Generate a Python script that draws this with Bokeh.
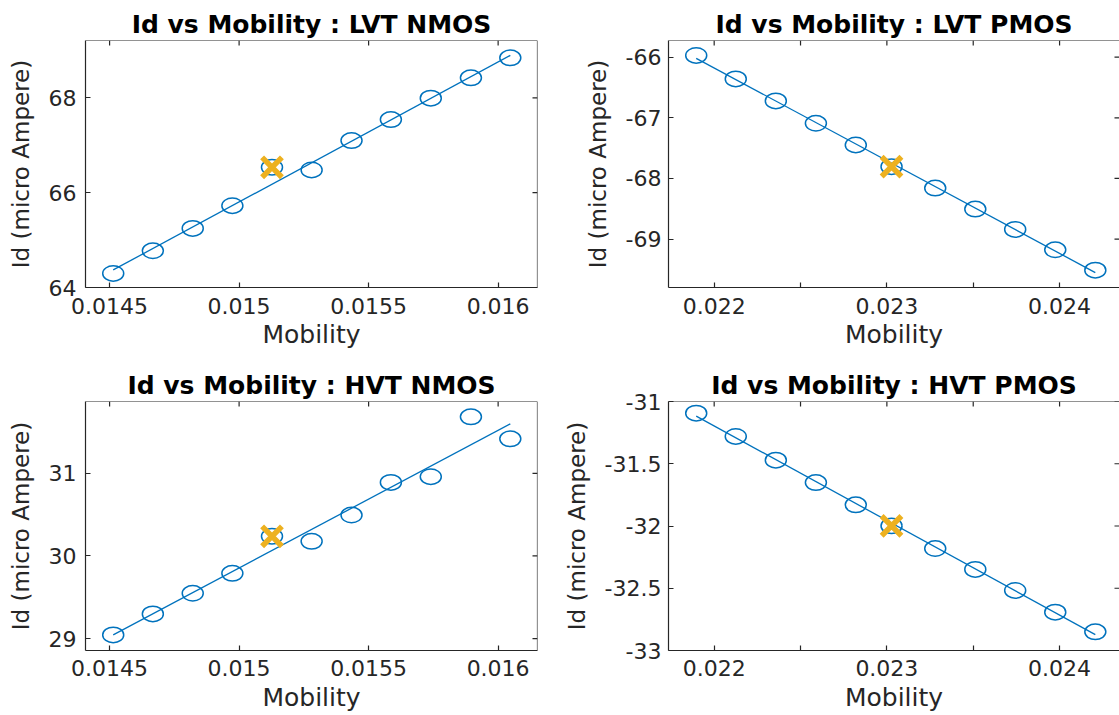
import numpy as np
from bokeh.plotting import figure
from bokeh.layouts import column, row
from bokeh.models import Range1d, LinearAxis, FixedTicker, CustomJSTickFormatter, Span
from bokeh.embed import file_html
from bokeh.resources import INLINE

# Mobility sweep values for each device polarity
mobility_nmos = [0.014514, 0.014667, 0.014821, 0.014974, 0.015127, 0.015280,
                 0.015434, 0.015586, 0.015740, 0.015895, 0.016047]
mobility_pmos = [0.021896, 0.022125, 0.022357, 0.022589, 0.022820, 0.023027,
                 0.023280, 0.023512, 0.023743, 0.023975, 0.024207]

# Drain current in micro Ampere for each sweep point
id_lvt_nmos = [64.296, 64.775, 65.246, 65.725, 66.535, 66.479,
               67.099, 67.542, 67.993, 68.423, 68.845]
id_lvt_pmos = [-65.972, -66.358, -66.721, -67.090, -67.448, -67.805,
               -68.158, -68.505, -68.840, -69.176, -69.512]
id_hvt_nmos = [29.044, 29.298, 29.548, 29.790, 30.238, 30.177,
               30.496, 30.891, 30.960, 31.685, 31.419]
id_hvt_pmos = [-31.094, -31.281, -31.471, -31.651, -31.830, -31.999,
               -32.181, -32.349, -32.518, -32.692, -32.850]

# Position of the nominal operating point inside each sweep
nominal_nmos = 4
nominal_pmos = 5

# Tick values
x_ticks_nmos = [0.0145, 0.015, 0.0155, 0.016]
x_ticks_pmos = [0.022, 0.023, 0.024]
x_minor_pmos = [0.0225, 0.0235]
y_ticks_lvt_nmos = [64, 66, 68]
y_ticks_lvt_pmos = [-69, -68, -67, -66]
y_ticks_hvt_nmos = [29, 30, 31]
y_ticks_hvt_pmos = [-33, -32.5, -32, -31.5, -31]

# Axis limits
x_lim_nmos = (0.014407, 0.016152)
x_lim_pmos = (0.0217355, 0.024347)
y_lim_lvt_nmos = (64.0, 69.21)
y_lim_lvt_pmos = (-69.798, -65.725)
y_lim_hvt_nmos = (28.855, 31.871)
y_lim_hvt_pmos = (-33.0, -31.0)

BLUE = "#0072BD"
GOLD = "#EDB120"
AXIS = "#262626"
FONT = "DejaVu Sans"
TICK_LEN = 5


def add_axis(p, side, ticks, minor, standoff, label, label_size, label_standoff):
    ax = LinearAxis(ticker=FixedTicker(ticks=ticks, minor_ticks=minor or []),
                    formatter=CustomJSTickFormatter(code="return String(tick);"))
    ax.major_tick_in = TICK_LEN
    ax.major_tick_out = 0
    ax.minor_tick_in = TICK_LEN if minor else 0
    ax.minor_tick_out = 0
    ax.major_tick_line_color = AXIS
    ax.minor_tick_line_color = AXIS
    ax.major_tick_line_width = 1.2
    ax.minor_tick_line_width = 1.2
    ax.axis_line_color = AXIS
    ax.axis_line_width = 1.2
    ax.major_label_text_font = FONT
    ax.major_label_text_font_size = "22px"
    ax.major_label_text_color = AXIS
    ax.major_label_standoff = standoff
    ax.axis_label = label
    ax.axis_label_text_font = FONT
    ax.axis_label_text_font_style = "normal"
    ax.axis_label_text_color = AXIS
    ax.axis_label_text_font_size = label_size
    ax.axis_label_standoff = label_standoff
    p.add_layout(ax, side)


def box_ticks(p, xlim, ylim, xt, yt, right_edge):
    """Inward tick marks on the top and right sides plus the box lines there."""
    p.add_layout(Span(location=ylim[1], dimension="width",
                      line_color=AXIS, line_width=1.2))
    if right_edge:
        p.add_layout(Span(location=xlim[1], dimension="height",
                          line_color=AXIS, line_width=1.2))
    p.ray(x=xt, y=[ylim[1]] * len(xt), length=TICK_LEN, length_units="screen",
          angle=-np.pi / 2, line_color=AXIS, line_width=1.2)
    p.ray(x=[xlim[1]] * len(yt), y=yt, length=TICK_LEN, length_units="screen",
          angle=np.pi, line_color=AXIS, line_width=1.2)


def panel(title, mob, cur, nom, xlim, ylim, xt, yt, xminor, w, h,
          left, right, top, bottom, right_edge=True, ystand=9, xstand=10, xlab_stand=3):
    p = figure(width=w, height=h, x_range=Range1d(*xlim), y_range=Range1d(*ylim),
               output_backend="svg", toolbar_location=None, tools="",
               x_axis_type=None, y_axis_type=None,
               min_border_left=left, min_border_right=right,
               min_border_top=top, min_border_bottom=bottom)
    p.outline_line_color = None
    p.background_fill_color = "white"
    p.border_fill_color = "white"

    p.title.text = title
    p.title.align = "center"
    p.title.text_font = FONT
    p.title.text_font_size = "25px"
    p.title.text_font_style = "bold"
    p.title.text_color = "#000000"
    p.title.standoff = 4

    add_axis(p, "below", xt, xminor, xstand, "Mobility", "25px", xlab_stand)
    add_axis(p, "left", yt, None, ystand, "Id (micro Ampere)", "23px", 12)
    box_ticks(p, xlim, ylim, xt + (xminor or []), yt, right_edge)

    # least-squares trend line through the sweep
    coef = np.polyfit(mob, cur, 1)
    xs = [min(mob), max(mob)]
    p.line(xs, list(np.polyval(coef, xs)), line_color=BLUE, line_width=1.3)

    p.ellipse(x=mob, y=cur, width=21, height=15.5,
              width_units="screen", height_units="screen",
              fill_color=None, line_color=BLUE, line_width=1.5)

    # nominal operating point
    p.scatter([mob[nom]], [cur[nom]], marker="x", size=28,
              line_color=GOLD, line_width=5.5)
    return p


p1 = panel("Id vs Mobility : LVT NMOS", mobility_nmos, id_lvt_nmos, nominal_nmos,
           x_lim_nmos, y_lim_lvt_nmos, x_ticks_nmos, y_ticks_lvt_nmos, None,
           555, 357, 85, 18, 40, 70)
p2 = panel("Id vs Mobility : LVT PMOS", mobility_pmos, id_lvt_pmos, nominal_pmos,
           x_lim_pmos, y_lim_lvt_pmos, x_ticks_pmos, y_ticks_lvt_pmos, x_minor_pmos,
           564, 357, 113, 0, 40, 70, right_edge=False, ystand=7)
p3 = panel("Id vs Mobility : HVT NMOS", mobility_nmos, id_hvt_nmos, nominal_nmos,
           x_lim_nmos, y_lim_hvt_nmos, x_ticks_nmos, y_ticks_hvt_nmos, None,
           555, 358, 85, 18, 44, 65, xstand=9, xlab_stand=4)
p4 = panel("Id vs Mobility : HVT PMOS", mobility_pmos, id_hvt_pmos, nominal_pmos,
           x_lim_pmos, y_lim_hvt_pmos, x_ticks_pmos, y_ticks_hvt_pmos, x_minor_pmos,
           564, 358, 113, 0, 44, 65, right_edge=False, ystand=7, xstand=9, xlab_stand=4)

layout = column(row(p1, p2), row(p3, p4))

with open("out.html", "w") as f:
    f.write(file_html(layout, INLINE))
